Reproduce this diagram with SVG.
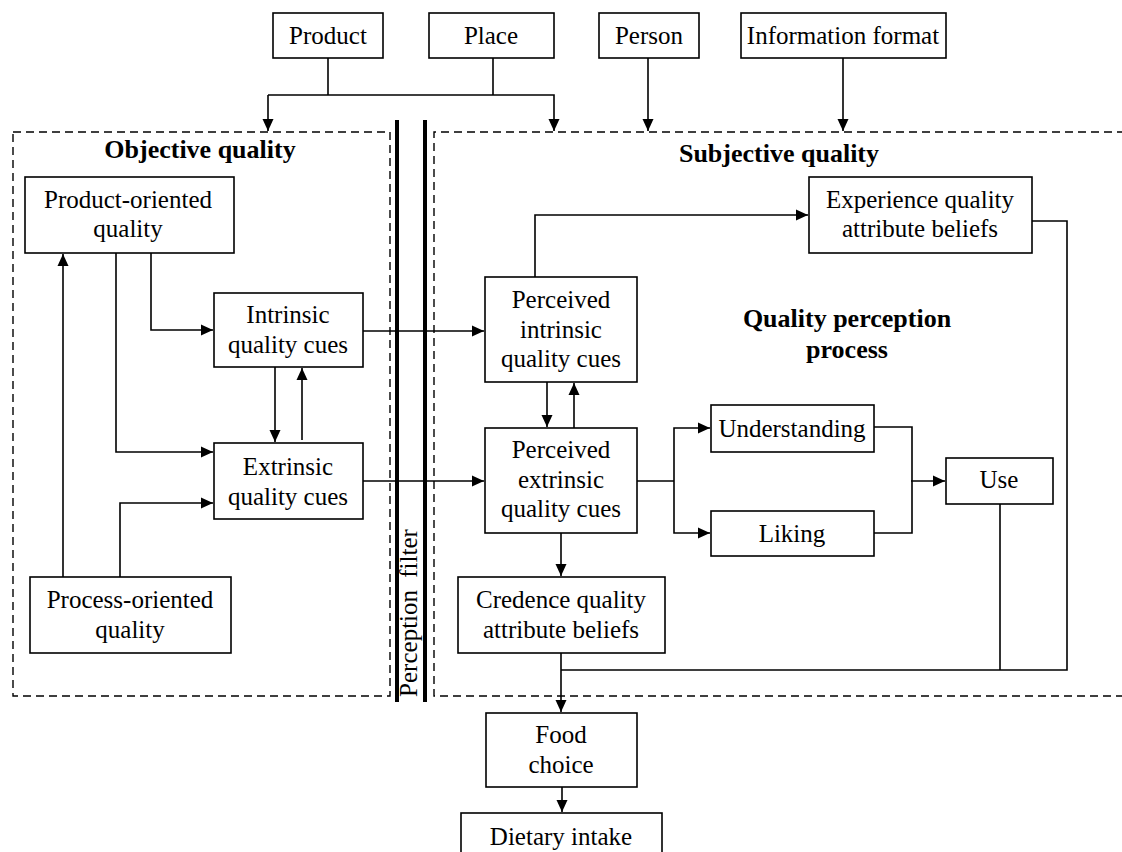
<svg xmlns="http://www.w3.org/2000/svg" width="1122" height="852" viewBox="0 0 1122 852">
<defs>
<marker id="ah" markerWidth="14" markerHeight="14" refX="12" refY="6.5" orient="auto" markerUnits="userSpaceOnUse">
<path d="M0,1 L12,6.5 L0,12 Z" fill="#000"/>
</marker>
<style>
.box{fill:#fff;stroke:#000;stroke-width:1.6}
.t{font-family:"Liberation Serif","Times New Roman",serif;font-size:25px;fill:#000;text-anchor:middle}
.b{font-family:"Liberation Serif","Times New Roman",serif;font-size:26px;font-weight:bold;fill:#000;text-anchor:middle}
.c{fill:none;stroke:#000;stroke-width:1.6}
.a{fill:none;stroke:#000;stroke-width:1.6;marker-end:url(#ah)}
.dash{fill:none;stroke:#000;stroke-width:1.4;stroke-dasharray:8,5}
.thick{stroke:#000;stroke-width:4}
</style>
</defs>
<rect width="1122" height="852" fill="#fff"/>

<g id="regions">
<rect class="dash" x="13" y="132" width="377" height="564"/>
<path class="dash" d="M1125,132 H434 V696 H1125"/>
<line class="thick" x1="397" y1="120" x2="397" y2="702"/>
<line class="thick" x1="425" y1="120" x2="425" y2="702"/>
<text class="t" transform="translate(417,613) rotate(-90)" word-spacing="6">Perception filter</text>
<text class="b" x="200" y="158">Objective quality</text>
<text class="b" x="779" y="162">Subjective quality</text>
<text class="b" x="847" y="327">Quality perception</text>
<text class="b" x="847" y="358">process</text>
</g>

<g id="connectors">
<path class="c" d="M328,58 V95"/>
<path class="c" d="M493,58 V95"/>
<path class="a" d="M268,95 H554 V131"/>
<path class="a" d="M268,95 V131"/>
<path class="a" d="M648,58 V131"/>
<path class="a" d="M843,58 V131"/>
<path class="a" d="M63,577 V254"/>
<path class="a" d="M116,253 V452 H213"/>
<path class="a" d="M151,253 V330 H213"/>
<path class="a" d="M275,367 V442"/>
<path class="a" d="M302,440 V368"/>
<path class="a" d="M120,577 V503 H213"/>
<path class="a" d="M363,331 H484"/>
<path class="a" d="M363,481 H484"/>
<path class="a" d="M547,382 V427"/>
<path class="a" d="M574,428 V383"/>
<path class="a" d="M535,277 V215 H808"/>
<path class="c" d="M637,481 H674"/>
<path class="a" d="M674,481 V428 H710"/>
<path class="a" d="M674,481 V533 H710"/>
<path class="c" d="M874,427 H912 V533 H874"/>
<path class="a" d="M911,481 H945"/>
<path class="c" d="M1032,221 H1067 V670 H561"/>
<path class="c" d="M1000,504 V670"/>
<path class="a" d="M561,533 V576"/>
<path class="a" d="M561,653 V712"/>
<path class="a" d="M562,787 V812"/>
</g>

<g id="product"><rect class="box" x="273" y="13" width="110" height="45"/><text class="t" x="328" y="44">Product</text></g>
<g id="place"><rect class="box" x="429" y="13" width="125" height="45"/><text class="t" x="491" y="44">Place</text></g>
<g id="person"><rect class="box" x="599" y="13" width="100" height="45"/><text class="t" x="649" y="44">Person</text></g>
<g id="info-format"><rect class="box" x="741" y="13" width="205" height="45"/><text class="t" x="843" y="44">Information format</text></g>

<g id="product-oriented"><rect class="box" x="25" y="177" width="209" height="76"/><text class="t" x="128" y="208">Product-oriented</text><text class="t" x="128" y="237">quality</text></g>
<g id="intrinsic"><rect class="box" x="214" y="293" width="149" height="74"/><text class="t" x="288" y="323">Intrinsic</text><text class="t" x="288" y="353">quality cues</text></g>
<g id="extrinsic"><rect class="box" x="214" y="443" width="149" height="76"/><text class="t" x="288" y="475">Extrinsic</text><text class="t" x="288" y="505">quality cues</text></g>
<g id="process-oriented"><rect class="box" x="30" y="577" width="201" height="76"/><text class="t" x="130" y="608">Process-oriented</text><text class="t" x="130" y="638">quality</text></g>

<g id="perceived-intrinsic"><rect class="box" x="485" y="277" width="152" height="105"/><text class="t" x="561" y="308">Perceived</text><text class="t" x="561" y="338">intrinsic</text><text class="t" x="561" y="367">quality cues</text></g>
<g id="perceived-extrinsic"><rect class="box" x="485" y="428" width="152" height="105"/><text class="t" x="561" y="458">Perceived</text><text class="t" x="561" y="488">extrinsic</text><text class="t" x="561" y="517">quality cues</text></g>
<g id="experience"><rect class="box" x="809" y="177" width="223" height="76"/><text class="t" x="920" y="208">Experience quality</text><text class="t" x="920" y="237">attribute beliefs</text></g>
<g id="understanding"><rect class="box" x="711" y="405" width="163" height="47"/><text class="t" x="792" y="437">Understanding</text></g>
<g id="liking"><rect class="box" x="711" y="511" width="163" height="45"/><text class="t" x="792" y="542">Liking</text></g>
<g id="use"><rect class="box" x="946" y="458" width="107" height="46"/><text class="t" x="999" y="488">Use</text></g>
<g id="credence"><rect class="box" x="458" y="577" width="207" height="76"/><text class="t" x="561" y="608">Credence quality</text><text class="t" x="561" y="638">attribute beliefs</text></g>
<g id="food-choice"><rect class="box" x="486" y="713" width="151" height="74"/><text class="t" x="561" y="743">Food</text><text class="t" x="561" y="773">choice</text></g>
<g id="dietary-intake"><rect class="box" x="461" y="813" width="201" height="50"/><text class="t" x="561" y="845">Dietary intake</text></g>
</svg>
